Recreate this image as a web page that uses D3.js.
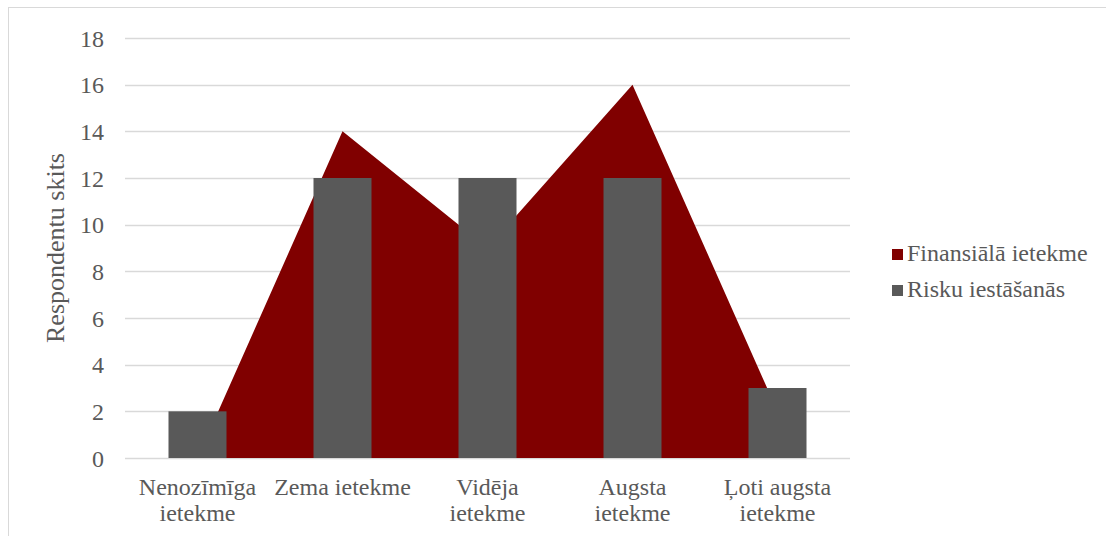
<!DOCTYPE html>
<html>
<head>
<meta charset="utf-8">
<script src="https://cdn.jsdelivr.net/npm/d3@7"></script>
<style>
  html, body { margin: 0; padding: 0; background: #fff; }
  svg { display: block; }
</style>
</head>
<body>
<svg id="chart" width="1106" height="536"></svg>
<script>
const categories = [
  ["Nenozīmīga", "ietekme"],
  ["Zema ietekme"],
  ["Vidēja", "ietekme"],
  ["Augsta", "ietekme"],
  ["Ļoti augsta", "ietekme"]
];
const finansialaIetekme = [0, 14, 9, 16, 2];
const riskuIestasanas = [2, 12, 12, 12, 3];
const yTicks = [0, 2, 4, 6, 8, 10, 12, 14, 16, 18];
const seriesNames = ["Finansiālā ietekme", "Risku iestāšanās"];
const seriesColors = ["#800000", "#595959"];
const yTitle = "Respondentu skits";

const FONT = "'Liberation Serif', 'Times New Roman', Times, serif";
const TEXT_COLOR = "#595959";

const svg = d3.select("#chart");
const margin = { left: 125, right: 256, top: 38, bottom: 78 };
const W = 1106, H = 536;

// outer chart frame
svg.append("rect")
  .attr("x", 8.5).attr("y", 7.5)
  .attr("width", W + 10).attr("height", H + 10)
  .attr("fill", "none").attr("stroke", "#d9d9d9").attr("stroke-width", 1);

const x = d3.scaleBand()
  .domain(d3.range(categories.length))
  .range([margin.left, W - margin.right])
  .paddingInner(0).paddingOuter(0);

const y = d3.scaleLinear().domain([0, 18]).range([H - margin.bottom, margin.top]);

// horizontal gridlines
svg.append("g")
  .selectAll("line")
  .data(yTicks)
  .join("line")
  .attr("x1", margin.left).attr("x2", W - margin.right)
  .attr("y1", d => Math.round(y(d)) + 0.5).attr("y2", d => Math.round(y(d)) + 0.5)
  .attr("stroke", "#d9d9d9").attr("stroke-width", 1.3);

// y axis labels
const yAxis = d3.axisLeft(y).tickValues(yTicks).tickSize(0).tickPadding(0);
const gy = svg.append("g").attr("transform", `translate(${margin.left - 21},0)`).call(yAxis);
gy.select(".domain").remove();
gy.attr("font-family", null).attr("font-size", null);
gy.selectAll("text")
  .style("font-family", FONT)
  .style("font-size", "24px")
  .style("fill", TEXT_COLOR)
  .attr("dy", "0.34em");

// area series, anchored at category centres
const cx = i => x(i) + x.bandwidth() / 2;
const area = d3.area()
  .x((d, i) => cx(i))
  .y0(y(0))
  .y1(d => y(d));
svg.append("path")
  .datum(finansialaIetekme)
  .attr("d", area)
  .attr("fill", seriesColors[0]);

// bar series
const barW = x.bandwidth() * 0.4;
svg.append("g")
  .selectAll("rect")
  .data(riskuIestasanas)
  .join("rect")
  .attr("x", (d, i) => cx(i) - barW / 2)
  .attr("width", barW)
  .attr("y", d => y(d))
  .attr("height", d => y(0) - y(d))
  .attr("fill", seriesColors[1]);

// category labels
const xl = svg.append("g");
categories.forEach((lines, i) => {
  const t = xl.append("text")
    .attr("x", cx(i)).attr("y", 495)
    .attr("text-anchor", "middle")
    .style("font-family", FONT)
    .style("font-size", "24px")
    .style("fill", TEXT_COLOR);
  lines.forEach((ln, j) => {
    t.append("tspan").attr("x", cx(i)).attr("dy", j === 0 ? 0 : 26).text(ln);
  });
});

// y axis title
svg.append("text")
  .attr("transform", `translate(64,${(y(0) + y(18)) / 2}) rotate(-90)`)
  .attr("text-anchor", "middle")
  .style("font-family", FONT)
  .style("font-size", "26px")
  .style("fill", TEXT_COLOR)
  .text(yTitle);

// legend
const lg = svg.append("g");
seriesNames.forEach((name, i) => {
  const yy = 261 + i * 36;
  lg.append("rect")
    .attr("x", 892).attr("y", yy - 12)
    .attr("width", 11).attr("height", 11)
    .attr("fill", seriesColors[i]);
  lg.append("text")
    .attr("x", 907).attr("y", yy)
    .style("font-family", FONT)
    .style("font-size", "24px")
    .style("fill", TEXT_COLOR)
    .text(name);
});
</script>
</body>
</html>
